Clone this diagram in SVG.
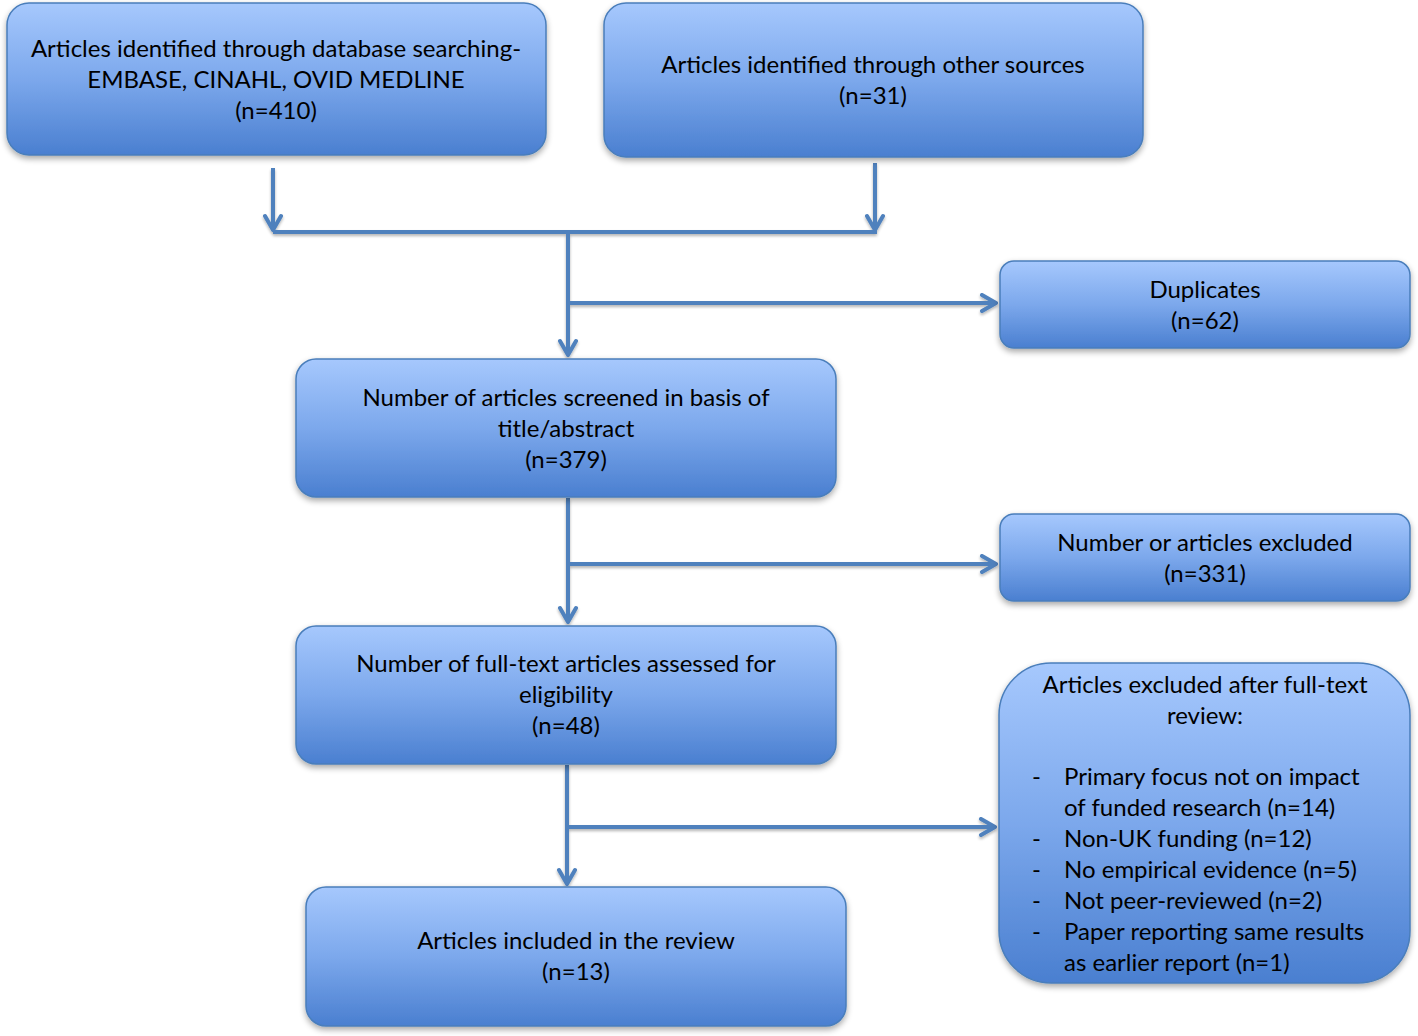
<svg xmlns="http://www.w3.org/2000/svg" width="1418" height="1036" viewBox="0 0 1418 1036">
<defs>
<linearGradient id="g" x1="0" y1="0" x2="0" y2="1">
<stop offset="0" stop-color="#a6c8fd"/>
<stop offset="0.5" stop-color="#7ca8ec"/>
<stop offset="1" stop-color="#4a7fd0"/>
</linearGradient>
<filter id="sh" x="-5%" y="-10%" width="110%" height="130%">
<feGaussianBlur in="SourceAlpha" stdDeviation="3"/>
<feOffset dx="0" dy="3" result="b"/>
<feComponentTransfer><feFuncA type="linear" slope="0.35"/></feComponentTransfer>
<feMerge><feMergeNode/><feMergeNode in="SourceGraphic"/></feMerge>
</filter>
<filter id="lsh" filterUnits="userSpaceOnUse" x="0" y="0" width="1418" height="1036">
<feGaussianBlur in="SourceAlpha" stdDeviation="1.5"/>
<feOffset dx="0" dy="2" result="b"/>
<feComponentTransfer><feFuncA type="linear" slope="0.3"/></feComponentTransfer>
<feMerge><feMergeNode/><feMergeNode in="SourceGraphic"/></feMerge>
</filter>
<marker id="ah" viewBox="0 0 20 20" refX="18" refY="10" markerWidth="20" markerHeight="20" markerUnits="userSpaceOnUse" orient="auto">
<path d="M4,2 L18,10 L4,18" fill="none" stroke="#4f81bd" stroke-width="4" stroke-linecap="round" stroke-linejoin="round"/>
</marker>
</defs>
<style>
.box{fill:url(#g);stroke:#4a7ebb;stroke-width:1.5;filter:url(#sh)}
.t{font-family:Lato,"Open Sans","Liberation Sans",sans-serif;font-size:24px;fill:#000;text-anchor:middle}
.l{text-anchor:start}
.c{fill:none;stroke:#4f81bd;stroke-width:4}
</style>
<g id="connectors" filter="url(#lsh)">
<path class="c" d="M273,168 V230" marker-end="url(#ah)"/>
<path class="c" d="M875,163 V230" marker-end="url(#ah)"/>
<path class="c" d="M273,232 H877"/>
<path class="c" d="M568,232 V355" marker-end="url(#ah)"/>
<path class="c" d="M568,303 H996" marker-end="url(#ah)"/>
<path class="c" d="M568,498 V622" marker-end="url(#ah)"/>
<path class="c" d="M568,564 H996" marker-end="url(#ah)"/>
<path class="c" d="M567,765 V884" marker-end="url(#ah)"/>
<path class="c" d="M567,827 H995" marker-end="url(#ah)"/>
</g>
<g id="n1">
<rect class="box" x="7" y="3" width="539" height="152" rx="22"/>
<text class="t" x="276" y="57">Articles identified through database searching-</text>
<text class="t" x="276" y="88">EMBASE, CINAHL, OVID MEDLINE</text>
<text class="t" x="276" y="119">(n=410)</text>
</g>
<g id="n2">
<rect class="box" x="604" y="3" width="539" height="154" rx="22"/>
<text class="t" x="873" y="73">Articles identified through other sources</text>
<text class="t" x="873" y="104">(n=31)</text>
</g>
<g id="n3">
<rect class="box" x="1000" y="261" width="410" height="87" rx="14"/>
<text class="t" x="1205" y="298">Duplicates</text>
<text class="t" x="1205" y="329">(n=62)</text>
</g>
<g id="n4">
<rect class="box" x="296" y="359" width="540" height="138" rx="20"/>
<text class="t" x="566" y="406">Number of articles screened in basis of</text>
<text class="t" x="566" y="437">title/abstract</text>
<text class="t" x="566" y="468">(n=379)</text>
</g>
<g id="n5">
<rect class="box" x="1000" y="514" width="410" height="87" rx="14"/>
<text class="t" x="1205" y="551">Number or articles excluded</text>
<text class="t" x="1205" y="582">(n=331)</text>
</g>
<g id="n6">
<rect class="box" x="296" y="626" width="540" height="138" rx="20"/>
<text class="t" x="566" y="672">Number of full-text articles assessed for</text>
<text class="t" x="566" y="703">eligibility</text>
<text class="t" x="566" y="734">(n=48)</text>
</g>
<g id="n7">
<rect class="box" x="999" y="663" width="411" height="320" rx="52"/>
<text class="t" x="1205" y="693">Articles excluded after full-text</text>
<text class="t" x="1205" y="724">review:</text>
<text class="t l" x="1032" y="785">-</text>
<text class="t l" x="1064" y="785">Primary focus not on impact</text>
<text class="t l" x="1064" y="816">of funded research (n=14)</text>
<text class="t l" x="1032" y="847">-</text>
<text class="t l" x="1064" y="847">Non-UK funding (n=12)</text>
<text class="t l" x="1032" y="878">-</text>
<text class="t l" x="1064" y="878">No empirical evidence (n=5)</text>
<text class="t l" x="1032" y="909">-</text>
<text class="t l" x="1064" y="909">Not peer-reviewed (n=2)</text>
<text class="t l" x="1032" y="940">-</text>
<text class="t l" x="1064" y="940">Paper reporting same results</text>
<text class="t l" x="1064" y="971">as earlier report (n=1)</text>
</g>
<g id="n8">
<rect class="box" x="306" y="887" width="540" height="139" rx="20"/>
<text class="t" x="576" y="949">Articles included in the review</text>
<text class="t" x="576" y="980">(n=13)</text>
</g>
</svg>
